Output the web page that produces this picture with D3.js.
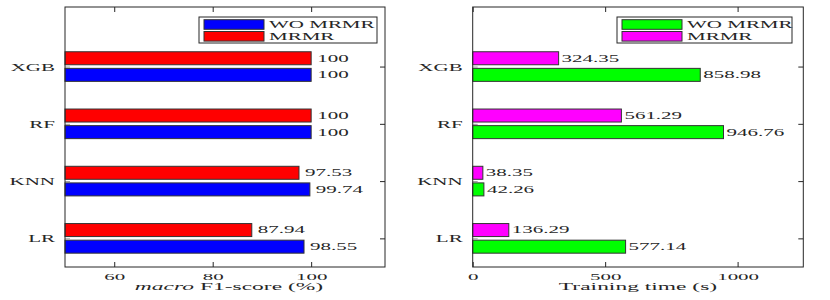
<!DOCTYPE html>
<html><head><meta charset="utf-8">
<script src="https://cdn.jsdelivr.net/npm/d3@7/dist/d3.min.js"></script>
<style>
body{margin:0;background:#fff;}
svg{display:block;}
text{font-family:"Liberation Serif","Times New Roman",serif;fill:#262626;}
</style></head>
<body><svg id="chart" width="830" height="300"></svg>
<script>
const categories = ["XGB","RF","KNN","LR"];
const f1WoMrmr = [100, 100, 99.74, 98.55];
const f1Mrmr = [100, 100, 97.53, 87.94];
const timeWoMrmr = [858.98, 946.76, 42.26, 577.14];
const timeMrmr = [324.35, 561.29, 38.35, 136.29];
const f1Ticks = [60, 80, 100];
const timeTicks = [0, 500, 1000];
const seriesNames = ["WO MRMR", "MRMR"];

const svg = d3.select("#chart");
const SX = 2.1;
const frameColor = "#262626";
const serif = '"Liberation Serif","Times New Roman",serif';

function panel(o){
  const x = d3.scaleLinear().domain(o.xDomain).range([o.left, o.right]);
  const y = d3.scaleLinear().domain([0.5, 5.04]).range([267, 7]);
  const pos = i => categories.length - i;
  const g = svg.append("g");
  const barH = y(0) - y(0.227);
  const off = y(0) - y(0.145);

  // bars
  const series = [
    {vals: o.mrmr, color: o.colMrmr, dy: -off},
    {vals: o.wo, color: o.colWo, dy: off}
  ];
  series.forEach(s => {
    g.selectAll(null).data(s.vals).enter().append("rect")
      .attr("x", x(o.xDomain[0]))
      .attr("y", (d,i) => y(pos(i)) + s.dy - barH/2)
      .attr("width", d => x(d) - x(o.xDomain[0]))
      .attr("height", barH)
      .attr("fill", s.color)
      .attr("stroke", "#333").attr("stroke-width", 1);
    g.selectAll(null).data(s.vals).enter().append("text")
      .attr("transform", (d,i) => `translate(${x(d) + o.gap},${y(pos(i)) + s.dy + 3.4}) scale(${SX},1)`)
      .attr("font-size", 10)
      .text(d => String(d));
  });

  // axes
  const xb = g.append("g").attr("transform", "translate(0,267)")
    .call(d3.axisBottom(x).tickValues(o.ticks).tickSize(-5).tickPadding(7).tickFormat(d3.format("d")));
  xb.selectAll("text").attr("font-size", 9).attr("dy", 0).attr("y", 0)
    .attr("transform", `translate(0,12.6) scale(2.33,1)`).style("font-family", serif).attr("fill", frameColor);
  const xt = g.append("g").attr("transform", "translate(0,7)")
    .call(d3.axisTop(x).tickValues(o.ticks).tickSize(-5).tickFormat(""));
  const yl = g.append("g").attr("transform", `translate(${o.left},0)`)
    .call(d3.axisLeft(y).tickValues(categories.map((c,i)=>pos(i))).tickSize(-5).tickFormat((d)=>categories[categories.length - d]));
  yl.selectAll("line").attr("stroke", "#999");
  yl.selectAll("text").attr("font-size", 10).attr("x", 0).attr("dy", 0)
    .attr("transform", `translate(-10,3.6) scale(${SX},1)`).attr("text-anchor","end")
    .style("font-family", serif).attr("fill", frameColor);
  const yr = g.append("g").attr("transform", `translate(${o.right},0)`)
    .call(d3.axisRight(y).tickValues(categories.map((c,i)=>pos(i))).tickSize(-5).tickFormat(""));
  [xb, xt, yl, yr].forEach(a => { a.select(".domain").remove(); });
  [xb, xt, yr].forEach(a => a.selectAll("line").attr("stroke", frameColor));

  // frame
  g.append("rect").attr("x", o.left).attr("y", 7).attr("width", o.right - o.left).attr("height", 260)
    .attr("fill", "none").attr("stroke", frameColor).attr("stroke-width", 1);

  // axis title
  const t = g.append("text")
    .attr("transform", `translate(${(o.left + o.right)/2 + o.titleDx},290) scale(2.35,1)`)
    .attr("text-anchor", "middle").attr("font-size", 10);
  o.title.forEach(p => t.append("tspan").attr("font-style", p.italic ? "italic" : "normal").text(p.t));

  // legend
  const lg = g.append("g");
  lg.append("rect").attr("x", o.legX).attr("y", 17).attr("width", o.legW).attr("height", 26)
    .attr("fill", "#fff").attr("stroke", frameColor).attr("stroke-width", 1);
  const legItems = [{name: seriesNames[0], color: o.colWo}, {name: seriesNames[1], color: o.colMrmr}];
  legItems.forEach((it, k) => {
    const cy = 24.5 + k * 11.8;
    lg.append("rect").attr("x", o.legX + 5).attr("y", cy - 4.8).attr("width", 60).attr("height", 9.6)
      .attr("fill", it.color).attr("stroke", "#333").attr("stroke-width", 1);
    lg.append("text").attr("transform", `translate(${o.legX + 70},${cy + 3.5}) scale(${SX},1)`)
      .attr("font-size", 10).text(it.name);
  });
}

panel({left: 65, right: 385, xDomain: [50, 115], ticks: f1Ticks, wo: f1WoMrmr, mrmr: f1Mrmr,
  colWo: "#0000ff", colMrmr: "#ff0000", gap: 6, legX: 199, legW: 178, titleDx: 4,
  title: [{t: "macro", italic: true}, {t: " F1-score (%)", italic: false}]});
panel({left: 472.7, right: 803.3, xDomain: [0, 1248], ticks: timeTicks, wo: timeWoMrmr, mrmr: timeMrmr,
  colWo: "#00ff00", colMrmr: "#ff00ff", gap: 3, legX: 617, legW: 175, titleDx: 0,
  title: [{t: "Training time (s)", italic: false}]});
</script></body></html>
